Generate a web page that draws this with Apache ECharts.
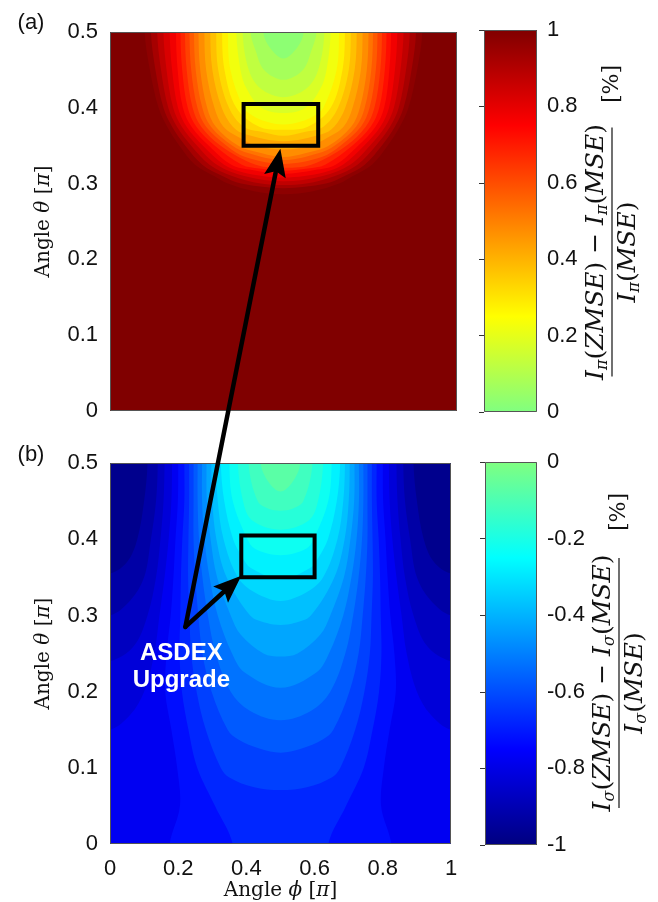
<!DOCTYPE html>
<html>
<head>
<meta charset="utf-8">
<script src="https://cdn.jsdelivr.net/npm/echarts@6/dist/echarts.min.js"></script>
<style>
html, body { margin: 0; padding: 0; background: #fff; }
#chart { width: 658px; height: 902px; }
</style>
</head>
<body>
<div id="chart"></div>
<script>
// ---------------------------------------------------------------------------
// Filled contour bands (like contourf). Each contour is a list of
// [theta, half-width in phi] pairs, from theta = 0.5 downward, measured from
// the symmetry line phi = 0.5. All angles in units of pi.
// ---------------------------------------------------------------------------

// (a) relative pi-intensity change: region below each level opens from the top edge
const PI_BACKGROUND = 1.0;
const PI_LEVELS = [1.00, 0.95, 0.90, 0.85, 0.80, 0.75, 0.70, 0.65, 0.60, 0.55,
                   0.50, 0.45, 0.40, 0.35, 0.30, 0.25, 0.20, 0.15, 0.10, 0.05];
const PI_CONTOURS = [
  [[0.5,0.400],[0.45,0.385],[0.4,0.360],[0.375,0.335],[0.35,0.300],[0.325,0.255],[0.31,0.200],[0.3,0.160],[0.29,0.085],[0.286,0]],
  [[0.5,0.382],[0.45,0.369],[0.4,0.346],[0.375,0.321],[0.35,0.283],[0.325,0.234],[0.31,0.176],[0.3,0.122],[0.294,0]],
  [[0.5,0.364],[0.45,0.353],[0.4,0.332],[0.375,0.307],[0.35,0.266],[0.325,0.213],[0.31,0.148],[0.3,0.065],[0.298,0]],
  [[0.5,0.346],[0.45,0.337],[0.4,0.318],[0.375,0.293],[0.35,0.249],[0.325,0.192],[0.31,0.113],[0.303,0]],
  [[0.5,0.328],[0.45,0.321],[0.4,0.304],[0.375,0.279],[0.35,0.232],[0.325,0.171],[0.315,0.118],[0.31,0.060],[0.308,0]],
  [[0.5,0.310],[0.45,0.305],[0.4,0.290],[0.375,0.265],[0.35,0.215],[0.325,0.150],[0.318,0.090],[0.313,0]],
  [[0.5,0.297],[0.45,0.292],[0.4,0.276],[0.375,0.251],[0.35,0.198],[0.325,0.120],[0.32,0.070],[0.317,0]],
  [[0.5,0.284],[0.45,0.279],[0.4,0.262],[0.375,0.237],[0.35,0.181],[0.325,0.080],[0.321,0]],
  [[0.5,0.271],[0.45,0.266],[0.4,0.248],[0.375,0.223],[0.35,0.164],[0.335,0.110],[0.326,0]],
  [[0.5,0.258],[0.45,0.253],[0.4,0.234],[0.375,0.209],[0.35,0.147],[0.34,0.100],[0.331,0]],
  [[0.5,0.245],[0.45,0.240],[0.4,0.220],[0.375,0.195],[0.35,0.130],[0.34,0.062],[0.335,0]],
  [[0.5,0.228],[0.45,0.223],[0.4,0.199],[0.375,0.173],[0.36,0.125],[0.35,0.080],[0.345,0]],
  [[0.5,0.211],[0.45,0.205],[0.4,0.178],[0.375,0.146],[0.365,0.110],[0.356,0]],
  [[0.5,0.194],[0.45,0.188],[0.4,0.157],[0.375,0.115],[0.368,0.060],[0.363,0]],
  [[0.5,0.177],[0.45,0.170],[0.4,0.136],[0.375,0.070],[0.371,0]],
  [[0.5,0.160],[0.45,0.153],[0.4,0.115],[0.39,0.090],[0.382,0.050],[0.378,0]],
  [[0.5,0.136],[0.45,0.124],[0.425,0.106],[0.4,0.064],[0.393,0]],
  [[0.5,0.118],[0.45,0.100],[0.425,0.065],[0.414,0]],
  [[0.5,0.095],[0.475,0.080],[0.45,0.056],[0.437,0]],
  [[0.5,0.058],[0.48,0.040],[0.465,0]]
];

// (b) relative sigma-intensity change
const SIGMA_BACKGROUND = -0.775;
// brighter regions (value above level), opening from the top edge
const SIGMA_LEVELS_UP = [-0.75, -0.70, -0.65, -0.60, -0.55, -0.50, -0.45,
                         -0.40, -0.35, -0.30, -0.25, -0.20, -0.15, -0.10];
const SIGMA_CONTOURS_UP = [
  [[0.5,0.300],[0.45,0.301],[0.4,0.308],[0.35,0.314],[0.3,0.322],[0.25,0.334],[0.2,0.338],[0.15,0.320],[0.1,0.303],[0.05,0.295],[0,0.325],[-0.05,0.325]],
  [[0.5,0.282],[0.45,0.282],[0.4,0.288],[0.35,0.292],[0.3,0.294],[0.25,0.296],[0.2,0.289],[0.15,0.270],[0.1,0.244],[0.05,0.192],[0,0.140],[-0.05,0.140]],
  [[0.5,0.268],[0.45,0.268],[0.4,0.270],[0.35,0.271],[0.3,0.267],[0.25,0.262],[0.2,0.246],[0.15,0.219],[0.1,0.175],[0.0875,0.150],[0.075,0.080],[0.071,0]],
  [[0.5,0.255],[0.45,0.255],[0.4,0.255],[0.35,0.250],[0.3,0.241],[0.25,0.229],[0.2,0.202],[0.15,0.155],[0.1375,0.125],[0.125,0.060],[0.12,0]],
  [[0.5,0.243],[0.45,0.243],[0.4,0.239],[0.35,0.229],[0.3,0.213],[0.25,0.190],[0.2,0.146],[0.175,0.090],[0.1625,0]],
  [[0.5,0.230],[0.45,0.230],[0.4,0.223],[0.35,0.208],[0.3,0.184],[0.25,0.142],[0.225,0.105],[0.205,0]],
  [[0.5,0.217],[0.45,0.216],[0.4,0.205],[0.35,0.186],[0.3,0.146],[0.275,0.117],[0.25,0.050],[0.246,0]],
  [[0.5,0.203],[0.45,0.200],[0.4,0.188],[0.35,0.158],[0.3,0.089],[0.29,0.040],[0.2875,0]],
  [[0.5,0.189],[0.45,0.184],[0.4,0.167],[0.35,0.125],[0.33,0.075],[0.319,0]],
  [[0.5,0.175],[0.45,0.165],[0.4,0.139],[0.375,0.110],[0.3625,0.088],[0.3475,0]],
  [[0.5,0.150],[0.45,0.140],[0.4,0.097],[0.3875,0.075],[0.379,0]],
  [[0.5,0.125],[0.45,0.110],[0.425,0.084],[0.4125,0]],
  [[0.5,0.094],[0.45,0.067],[0.44,0.035],[0.4375,0]],
  [[0.5,0.058],[0.475,0.035],[0.4625,0]]
];
// darker side lobes (value below level): [theta, distance of lobe edge from phi = 0.5]
const SIGMA_LEVELS_DOWN = [-0.80, -0.85, -0.90, -0.95];
const SIGMA_CONTOURS_DOWN = [
  [[0.5,0.318],[0.45,0.320],[0.4,0.328],[0.35,0.340],[0.3,0.355],[0.25,0.370],[0.2,0.400],[0.17,0.440],[0.15,0.5],[0.15,0.6]],
  [[0.5,0.340],[0.45,0.343],[0.4,0.352],[0.35,0.365],[0.3,0.390],[0.26,0.430],[0.24,0.5],[0.24,0.6]],
  [[0.5,0.360],[0.45,0.365],[0.4,0.380],[0.35,0.400],[0.32,0.440],[0.3,0.5],[0.3,0.6]],
  [[0.5,0.390],[0.45,0.400],[0.4,0.420],[0.37,0.450],[0.355,0.5],[0.355,0.6]]
];
const SYMMETRY_PHI = 0.5;
const BAND_HALF_STEP = 0.025;

// Axis ranges and ticks
const PHI_RANGE = [0, 1], PHI_TICK = 0.2;
const THETA_RANGE = [0, 0.5], THETA_TICK = 0.1;
const PI_CBAR = [0, 1], SIGMA_CBAR = [-1, 0], CBAR_TICK = 0.2;

// Jet colour map halves (evenly spaced stops from low to high value)
const JET_UPPER = ['#80ff80', '#ffff00', '#ff8000', '#ff0000', '#800000'];
const JET_LOWER = ['#000080', '#0000ff', '#0080ff', '#00ffff', '#80ff80'];

// ASDEX Upgrade sight-line box and arrows (phi, theta)
const BOX_PHI = [0.385, 0.6];
const BOX_THETA = [0.35, 0.405];
const ARROW_ORIGIN = [0.221, 0.285];      // in panel (b)
const ARROW_TIP_A = [0.491, 0.346];       // in panel (a)
const ARROW_TIP_B = [0.385, 0.352];       // in panel (b)

const TICK_FONT = 'Liberation Sans, Arial, Helvetica, sans-serif';
const SERIF = 'DejaVu Serif, serif';

// ---- polygon builders (phi, theta) ----
const OUT = 0.1;   // how far shapes run past the frame; they are clipped to it
function fullRect() {
  return [[-OUT, -OUT], [1 + OUT, -OUT], [1 + OUT, 0.5 + OUT], [-OUT, 0.5 + OUT]];
}
function dome(pairs) {
  const c = SYMMETRY_PHI, d0 = pairs[0][1];
  const left = pairs.map(([t, d]) => [c - d, t]);
  const right = pairs.slice().reverse().filter(([t, d], k) => !(k === 0 && d === 0)).map(([t, d]) => [c + d, t]);
  return [[c - d0, 0.5 + OUT], ...left, ...right, [c + d0, 0.5 + OUT]];
}
function lobe(pairs, side) {
  const c = SYMMETRY_PHI, d0 = pairs[0][1];
  return [[c + side * 0.6, 0.5 + OUT], [c + side * d0, 0.5 + OUT], ...pairs.map(([t, d]) => [c + side * d, t])];
}

// shapes and their fill values, in drawing order
function piBands() {
  const shapes = [fullRect()], values = [PI_BACKGROUND], smooth = [false];
  PI_LEVELS.forEach((lv, k) => {
    shapes.push(dome(PI_CONTOURS[k])); values.push(lv - BAND_HALF_STEP); smooth.push(true);
  });
  return { shapes, values, smooth };
}
function sigmaBands() {
  const shapes = [fullRect()], values = [SIGMA_BACKGROUND], smooth = [false];
  SIGMA_LEVELS_DOWN.forEach((lv, k) => {
    [-1, 1].forEach(side => {
      shapes.push(lobe(SIGMA_CONTOURS_DOWN[k], side)); values.push(lv - BAND_HALF_STEP); smooth.push(true);
    });
  });
  SIGMA_LEVELS_UP.forEach((lv, k) => {
    shapes.push(dome(SIGMA_CONTOURS_UP[k])); values.push(lv + BAND_HALF_STEP); smooth.push(true);
  });
  return { shapes, values, smooth };
}

function bandSeries(idx, bands) {
  return {
    type: 'custom',
    xAxisIndex: idx, yAxisIndex: idx,
    data: bands.values.map((v, k) => [k, v]),
    encode: { x: 0, y: 1 },
    silent: true,
    clip: true,
    renderItem(params, api) {
      const k = api.value(0);
      const pts = bands.shapes[k].map(p => api.coord(p));
      const cs = params.coordSys;
      return {
        type: 'polygon',
        shape: { points: pts, smooth: bands.smooth[k] ? 0.35 : 0 },
        style: { fill: api.visual('color') },
        clipPath: { type: 'rect', shape: { x: cs.x, y: cs.y, width: cs.width, height: cs.height } }
      };
    }
  };
}

function colorbarSeries(idx, range, colors) {
  const stops = colors.slice().reverse().map((c, k) => ({ offset: k / (colors.length - 1), color: c }));
  return {
    type: 'custom',
    xAxisIndex: idx, yAxisIndex: idx,
    data: [[0, range[0]]],
    silent: true,
    renderItem(params, api) {
      const a = api.coord([0, range[1]]);
      const b = api.coord([1, range[0]]);
      return {
        type: 'rect',
        shape: { x: a[0], y: a[1], width: b[0] - a[0], height: b[1] - a[1] },
        style: { fill: new echarts.graphic.LinearGradient(0, 0, 0, 1, stops) }
      };
    }
  };
}

const grids = [
  { left: 110, top: 32, width: 347, height: 379 },
  { left: 110, top: 463, width: 341, height: 382 },
  { left: 484, top: 30, width: 53, height: 382 },
  { left: 485, top: 462, width: 52, height: 383 }
];

const tickLabel = { fontFamily: TICK_FONT, fontSize: 22, color: '#111' };
const serifName = {
  fontFamily: SERIF, fontSize: 20, color: '#111',
  rich: { i: { fontFamily: SERIF, fontSize: 20, fontStyle: 'italic', color: '#111' } }
};

const mainX = (idx, showLabels) => ({
  type: 'value', gridIndex: idx, min: PHI_RANGE[0], max: PHI_RANGE[1], interval: PHI_TICK,
  axisLine: { show: false }, axisTick: { show: false }, splitLine: { show: false },
  axisLabel: Object.assign({ show: showLabels, margin: 14 }, tickLabel),
  name: showLabels ? 'Angle {i|ϕ} [{i|π}]' : '',
  nameLocation: 'middle', nameGap: 33, nameTextStyle: serifName
});
const mainY = (idx) => ({
  type: 'value', gridIndex: idx, min: THETA_RANGE[0], max: THETA_RANGE[1], interval: THETA_TICK,
  axisLine: { show: false }, axisTick: { show: false }, splitLine: { show: false },
  axisLabel: Object.assign({ margin: 12 }, tickLabel),
  name: 'Angle {i|θ} [{i|π}]', nameLocation: 'middle', nameRotate: 90, nameGap: 56,
  nameTextStyle: serifName
});
const cbarX = (idx) => ({ type: 'value', gridIndex: idx, min: 0, max: 1, show: false });
const cbarY = (idx, range) => ({
  type: 'value', gridIndex: idx, min: range[0], max: range[1], interval: CBAR_TICK,
  position: 'right',
  axisLine: { show: false }, splitLine: { show: false },
  axisTick: { show: true, inside: true, length: 5, lineStyle: { color: '#333', width: 1 } },
  axisLabel: Object.assign({ margin: 10 }, tickLabel)
});

const chart = echarts.init(document.getElementById('chart'), null, { renderer: 'canvas' });

chart.setOption({
  animation: false,
  backgroundColor: '#ffffff',
  grid: grids,
  xAxis: [mainX(0, false), mainX(1, true), cbarX(2), cbarX(3)],
  yAxis: [mainY(0), mainY(1), cbarY(2, PI_CBAR), cbarY(3, SIGMA_CBAR)],
  visualMap: [
    { type: 'continuous', show: false, seriesIndex: 0, dimension: 1,
      min: PI_CBAR[0], max: PI_CBAR[1], inRange: { color: JET_UPPER } },
    { type: 'continuous', show: false, seriesIndex: 1, dimension: 1,
      min: SIGMA_CBAR[0], max: SIGMA_CBAR[1], inRange: { color: JET_LOWER } }
  ],
  series: [
    bandSeries(0, piBands()),
    bandSeries(1, sigmaBands()),
    colorbarSeries(2, PI_CBAR, JET_UPPER),
    colorbarSeries(3, SIGMA_CBAR, JET_LOWER)
  ]
});

// ---- overlay: frames, sight-line boxes, arrows, labels ----
const px = (grid, pt) => chart.convertToPixel({ gridIndex: grid }, pt);
const Z = 100;
const overlay = [];

function frame(grid, xr, yr) {
  const a = px(grid, [xr[0], yr[1]]), b = px(grid, [xr[1], yr[0]]);
  overlay.push({
    type: 'rect', z: Z, silent: true,
    shape: { x: Math.round(a[0]) + 0.5, y: Math.round(a[1]) + 0.5,
             width: Math.round(b[0] - a[0]) - 1, height: Math.round(b[1] - a[1]) - 1 },
    style: { fill: null, stroke: '#555', lineWidth: 1 }
  });
}
frame(0, PHI_RANGE, THETA_RANGE);
frame(1, PHI_RANGE, THETA_RANGE);
frame(2, [0, 1], PI_CBAR);
frame(3, [0, 1], SIGMA_CBAR);

function box(grid) {
  const a = px(grid, [BOX_PHI[0], BOX_THETA[1]]), b = px(grid, [BOX_PHI[1], BOX_THETA[0]]);
  overlay.push({
    type: 'rect', z: Z, silent: true,
    shape: { x: a[0], y: a[1], width: b[0] - a[0], height: b[1] - a[1] },
    style: { fill: null, stroke: '#000', lineWidth: 4 }
  });
}
box(0);
box(1);

function arrow(from, to) {
  const headLen = 28, headHalf = 11;
  const dx = to[0] - from[0], dy = to[1] - from[1];
  const len = Math.hypot(dx, dy), ux = dx / len, uy = dy / len;
  const bx = to[0] - ux * headLen, by = to[1] - uy * headLen;
  overlay.push({
    type: 'line', z: Z, silent: true,
    shape: { x1: from[0], y1: from[1], x2: bx + ux * 4, y2: by + uy * 4 },
    style: { stroke: '#000', lineWidth: 4.5, lineCap: 'round' }
  });
  overlay.push({
    type: 'polygon', z: Z, silent: true,
    shape: { points: [[to[0], to[1]], [bx - uy * headHalf, by + ux * headHalf],
                      [bx + ux * 5, by + uy * 5], [bx + uy * headHalf, by - ux * headHalf]] },
    style: { fill: '#000' }
  });
}
const origin = px(1, ARROW_ORIGIN);
arrow(origin, px(0, ARROW_TIP_A));
arrow(origin, px(1, ARROW_TIP_B));

overlay.push({
  type: 'text', z: Z, silent: true,
  x: origin[0] - 4, y: origin[1] + 13,
  style: {
    text: 'ASDEX\nUpgrade', fill: '#fff', align: 'center', verticalAlign: 'top',
    font: 'bold 24px Liberation Sans, Arial, sans-serif', lineHeight: 27
  }
});

// panel tags
overlay.push({ type: 'text', z: Z, x: 31, y: 23,
  style: { text: '(a)', fill: '#111', align: 'center', verticalAlign: 'middle', font: '22px Liberation Sans, Arial, sans-serif' } });
overlay.push({ type: 'text', z: Z, x: 31, y: 455,
  style: { text: '(b)', fill: '#111', align: 'center', verticalAlign: 'middle', font: '22px Liberation Sans, Arial, sans-serif' } });

// colour-bar titles: rotated fraction plus [%]
function fractionLabel(cx, cy, lineLen, pctOffset, sym) {
  const rich = {
    i: { fontFamily: SERIF, fontSize: 25, fontStyle: 'italic', fill: '#111', lineHeight: 30, verticalAlign: 'middle' },
    n: { fontFamily: SERIF, fontSize: 25, fill: '#111', lineHeight: 30, verticalAlign: 'middle' },
    s: { fontFamily: SERIF, fontSize: 16, fontStyle: 'italic', fill: '#111', lineHeight: 16, verticalAlign: 'bottom' }
  };
  const num = `{i|I}{s|${sym}}{n|(}{i|ZMSE}{n|)}{n| − }{i|I}{s|${sym}}{n|(}{i|MSE}{n|)}`;
  const den = `{i|I}{s|${sym}}{n|(}{i|MSE}{n|)}`;
  overlay.push({
    type: 'group', z: Z, x: cx, y: cy, rotation: Math.PI / 2, silent: true,
    children: [
      { type: 'line', z: Z, shape: { x1: -lineLen / 2, y1: 0, x2: lineLen / 2, y2: 0 },
        style: { stroke: '#111', lineWidth: 1.2 } },
      { type: 'text', z: Z, x: 0, y: -1,
        style: { text: num, rich, align: 'center', verticalAlign: 'bottom' } },
      { type: 'text', z: Z, x: 0, y: 1,
        style: { text: den, rich, align: 'center', verticalAlign: 'top' } },
      { type: 'text', z: Z, x: pctOffset, y: 0,
        style: { text: '[%]', align: 'center', verticalAlign: 'middle', fill: '#111',
                 font: '22px DejaVu Serif, serif' } }
    ]
  });
}
fractionLabel(612, 252, 249, 168, 'π');
fractionLabel(619, 683, 250, 171, 'σ');

chart.setOption({ graphic: { elements: overlay } });
</script>
</body>
</html>
